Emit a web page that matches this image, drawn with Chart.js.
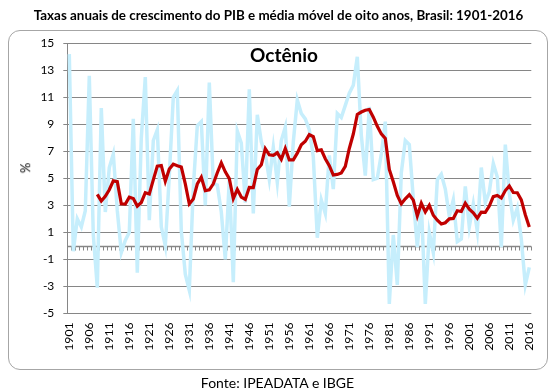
<!DOCTYPE html>
<html>
<head>
<meta charset="utf-8">
<script src="https://cdn.jsdelivr.net/npm/chart.js@4.4.1/dist/chart.umd.min.js"></script>
<style>
  html, body { margin: 0; padding: 0; background: #fff; }
  body { width: 555px; height: 392px; position: relative; overflow: hidden; font-family: Lato, 'Open Sans', sans-serif; color: #000; }
  #frame { position: absolute; left: 8px; top: 30px; width: 538px; height: 338px; border: 1px solid #a6a6a6; border-radius: 12px; }
  #chartBox { position: absolute; left: 0; top: 0; width: 555px; height: 392px; }
  .txt { position: absolute; white-space: nowrap; }
  #title { left: 0; width: 557px; top: 7px; text-align: center; font-weight: bold; font-size: 13.4px; }
  #badge { left: 0; width: 568px; top: 43px; text-align: center; font-weight: bold; font-size: 19px; }
  #source { left: 0; width: 555px; top: 374px; text-align: center; font-size: 14px; }
  #yUnit { left: 20px; top: 160px; font-size: 13px; transform: rotate(-90deg); }
</style>
</head>
<body>
<div id="frame"></div>
<div id="chartBox"><canvas id="gdpChart" width="555" height="392"></canvas></div>
<div class="txt" id="title">Taxas anuais de crescimento do PIB e média móvel de oito anos, Brasil: 1901-2016</div>
<div class="txt" id="badge">Octênio</div>
<div class="txt" id="yUnit">%</div>
<div class="txt" id="source">Fonte: IPEADATA e IBGE</div>
<script>
// anos 1901-2016
const years = [];
for (let y = 1901; y <= 2016; y++) years.push(String(y));

// taxa anual de crescimento do PIB (%)
const annualGrowth = [
  14.2, -0.4, 2.0, 1.4, 2.6, 12.6, 0.8, -3.1, 10.2, 2.5,
  5.8, 6.8, 2.6, -0.5, 0.4, 1.0, 9.4, -2.0, 8.0, 12.5,
  1.9, 7.8, 8.6, 1.4, 0.0, 5.2, 11.0, 11.5, 1.1, -2.1,
  -3.3, 4.3, 8.9, 9.2, 3.0, 12.1, 4.6, 4.5, 2.5, -1.0,
  4.9, -2.7, 8.5, 7.6, 3.2, 11.6, 2.4, 9.7, 7.7, 6.8,
  4.9, 7.3, 4.7, 7.8, 8.8, 2.9, 7.7, 10.8, 9.8, 9.4,
  8.6, 6.6, 0.6, 3.4, 2.4, 6.7, 4.2, 9.8, 9.5, 10.4,
  11.3, 11.9, 14.0, 8.2, 5.2, 10.3, 4.9, 5.0, 6.8, 9.2,
  -4.3, 0.8, -2.9, 5.4, 7.8, 7.5, 3.5, -0.1, 3.2, -4.3,
  1.0, -0.5, 4.9, 5.3, 4.2, 2.2, 3.4, 0.3, 0.5, 4.4,
  1.4, 3.1, 1.1, 5.8, 3.2, 4.0, 6.1, 5.1, -0.1, 7.5,
  3.9, 1.9, 2.8, 0.5, -2.9, -1.6
];

// média móvel de oito anos (%), começa em 1908
const movingAvg = [
  null, null, null, null, null, null, null, 3.81, 3.31, 3.66,
  4.15, 4.81, 4.75, 3.11, 3.09, 3.60, 3.50, 2.94, 3.21, 3.93,
  3.84, 4.88, 5.90, 5.95, 4.78, 5.68, 6.05, 5.93, 5.83, 4.59,
  3.10, 3.46, 4.58, 5.08, 4.08, 4.15, 4.59, 5.41, 6.14, 5.48,
  4.98, 3.49, 4.18, 3.61, 3.44, 4.33, 4.31, 5.65, 6.00, 7.19,
  6.74, 6.70, 6.89, 6.41, 7.21, 6.36, 6.36, 6.86, 7.48, 7.74,
  8.23, 8.08, 7.05, 7.11, 6.45, 5.94, 5.24, 5.29, 5.40, 5.88,
  7.21, 8.28, 9.73, 9.91, 10.04, 10.10, 9.53, 8.85, 8.29, 7.95,
  5.66, 4.74, 3.73, 3.11, 3.48, 3.79, 3.38, 2.21, 3.15, 2.51,
  3.00, 2.26, 1.90, 1.62, 1.71, 2.00, 2.03, 2.60, 2.54, 3.16,
  2.71, 2.44, 2.05, 2.50, 2.48, 2.94, 3.64, 3.73, 3.54, 4.09,
  4.44, 3.95, 3.93, 3.40, 2.30, 1.40
];

const yTicks = [-5, -3, -1, 1, 3, 5, 7, 9, 11, 13, 15];

const gridGray = '#868686';
const tickFont = { family: 'Lato', size: 12 };

// linha do zero com marcas entre as categorias
const zeroAxis = {
  id: 'zeroAxis',
  beforeDatasetsDraw(chart) {
    const { ctx, chartArea, scales } = chart;
    const x = scales.x;
    const y0 = Math.round(scales.y.getPixelForValue(0)) + 0.5;
    ctx.save();
    ctx.strokeStyle = gridGray;
    ctx.lineWidth = 1.5;
    ctx.beginPath();
    ctx.moveTo(chartArea.left, y0);
    ctx.lineTo(chartArea.right, y0);
    ctx.stroke();
    ctx.lineWidth = 1;
    ctx.beginPath();
    const n = years.length;
    for (let i = 0; i <= n; i++) {
      let px;
      if (i === 0) px = chartArea.left;
      else if (i === n) px = chartArea.right;
      else px = (x.getPixelForValue(i - 1) + x.getPixelForValue(i)) / 2;
      px = Math.round(px) + 0.5;
      ctx.moveTo(px, y0);
      ctx.lineTo(px, y0 + 4);
    }
    ctx.stroke();
    ctx.restore();
  }
};

const padLeft = 10, padRight = 23.7, padTop = 43.3, padBottom = 38.7;

new Chart(document.getElementById('gdpChart'), {
  type: 'line',
  data: {
    labels: years,
    datasets: [
      {
        label: 'Média móvel de oito anos',
        data: movingAvg,
        borderColor: '#c00000',
        borderWidth: 3.2,
        pointRadius: 0,
        tension: 0,
        spanGaps: false,
        order: 0
      },
      {
        label: 'Taxa anual',
        data: annualGrowth,
        borderColor: '#c6eefc',
        borderWidth: 3.5,
        pointRadius: 0,
        tension: 0,
        order: 1
      }
    ]
  },
  options: {
    responsive: false,
    animation: false,
    devicePixelRatio: 1,
    layout: { padding: { left: padLeft, right: padRight, top: padTop, bottom: padBottom } },
    plugins: {
      legend: { display: false },
      tooltip: { enabled: false },
      title: { display: false }
    },
    scales: {
      x: {
        offset: true,
        grid: { display: false, drawTicks: false },
        border: { display: false },
        ticks: {
          autoSkip: false,
          maxRotation: 90,
          minRotation: 90,
          padding: 9,
          color: '#000',
          font: { family: 'Lato', size: 12.3 },
          callback: (v, i) => (i % 5 === 0 ? years[i] : '')
        },
        afterFit: (s) => { s.height = 40; }
      },
      y: {
        min: -5,
        max: 15,
        afterBuildTicks: (s) => { s.ticks = yTicks.map((v) => ({ value: v })); },
        grid: {
          color: gridGray,
          borderDash: [4, 3],
          drawTicks: true,
          tickLength: 4,
          tickColor: gridGray,
          tickBorderDash: []
        },
        border: { display: true, color: gridGray, width: 1 },
        ticks: { padding: 9, color: '#000', font: tickFont },
        afterFit: (s) => { s.width = 67.3 - padLeft; }
      }
    }
  },
  plugins: [zeroAxis]
});
</script>
</body>
</html>
